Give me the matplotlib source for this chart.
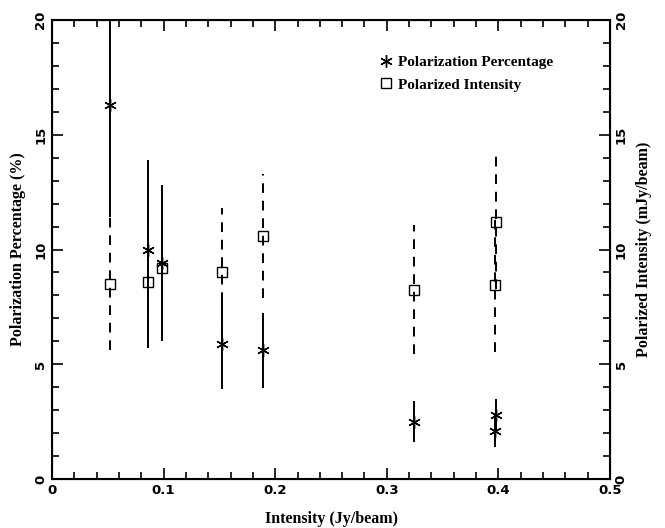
import matplotlib
matplotlib.use('Agg')
import matplotlib.pyplot as plt
import matplotlib.lines as lines
from matplotlib.ticker import MultipleLocator

# values
intensity = [0.052, 0.086, 0.0985, 0.152, 0.189, 0.324, 0.398, 0.397]   # Jy/beam
pol_pct = [16.3, 10.0, 9.4, 5.9, 5.6, 2.5, 2.8, 2.1]                   # %
pol_pct_err = [4.9, 3.9, 3.4, 2.0, 1.65, 0.9, 0.7, 0.7]
pol_int = [8.5, 8.6, 9.2, 9.0, 10.6, 8.25, 11.2, 8.45]                   # mJy/beam
pol_int_err = [2.9, 2.9, 2.9, 2.8, 2.7, 2.8, 2.9, 2.9]

serif = {'family': 'Liberation Serif', 'weight': 'bold', 'size': 11.5}
leg_font = {'family': 'Liberation Serif', 'weight': 'bold', 'size': 11}

fig = plt.figure(figsize=(6.65, 5.28), dpi=100)
ax = fig.add_axes([0.0782, 0.0928, 0.8391, 0.8693])

# polarized intensity with dashed error bars
eb = ax.errorbar(intensity, pol_int, yerr=pol_int_err, fmt='s', ms=7.5, mfc='none',
                 mec='black', mew=1.0, ecolor='black', elinewidth=1.4, capsize=0, zorder=2)
eb[2][0].set_linestyle((0, (5, 4)))

# polarization percentage with solid error bars
ax.errorbar(intensity, pol_pct, yerr=pol_pct_err, fmt='none', ecolor='black',
            elinewidth=1.4, capsize=0, zorder=3)
ax.plot(intensity, pol_pct, ls='none', marker=(6, 2, 0), ms=9, mec='black', mew=1.0, zorder=4)

ax.set_xlim(0, 0.5)
ax.set_ylim(0, 20)
ax.xaxis.set_major_locator(MultipleLocator(0.1))
ax.xaxis.set_minor_locator(MultipleLocator(0.02))
ax.yaxis.set_major_locator(MultipleLocator(5))
ax.yaxis.set_minor_locator(MultipleLocator(1))
ax.set_xticks([0, 0.1, 0.2, 0.3, 0.4, 0.5])
ax.set_xticklabels(['0', '0.1', '0.2', '0.3', '0.4', '0.5'])
ax.tick_params(which='both', direction='in', top=True, right=True, width=1.2,
               labelsize=9.5)
ax.tick_params(which='major', length=8)
ax.tick_params(which='minor', length=5)
for lab in ax.get_xticklabels() + ax.get_yticklabels():
    lab.set_fontweight('bold')
for lab in ax.get_yticklabels():
    lab.set_rotation(90)
    lab.set_va('center')
for sp in ax.spines.values():
    sp.set_linewidth(1.5)

ax.set_xlabel('Intensity (Jy/beam)', fontdict=serif, labelpad=10)
ax.set_ylabel('Polarization Percentage (%)', fontdict=serif, labelpad=6)

# right-hand axis for polarized intensity
ax2 = ax.twinx()
ax2.set_ylim(0, 20)
ax2.yaxis.set_major_locator(MultipleLocator(5))
ax2.yaxis.set_minor_locator(MultipleLocator(1))
ax2.tick_params(which='both', direction='in', width=1.2, labelsize=9.5)
ax2.tick_params(which='major', length=8)
ax2.tick_params(which='minor', length=5)
for lab in ax2.get_yticklabels():
    lab.set_fontweight('bold')
    lab.set_rotation(90)
    lab.set_va('center')
ax2.set_ylabel('Polarized Intensity (mJy/beam)', fontdict=serif, rotation=90, labelpad=6)

star = lines.Line2D([], [], ls='none', marker=(6, 2, 0), ms=9, mec='black', mew=1.0,
                    label='Polarization Percentage')
box = lines.Line2D([], [], ls='none', marker='s', ms=7.5, mfc='none', mec='black', mew=1.0,
                   label='Polarized Intensity')
ax.legend(handles=[star, box], loc='upper left', bbox_to_anchor=(0.563, 0.952), frameon=False,
          prop=leg_font, handlelength=0.8, handletextpad=0.4, labelspacing=0.55)

fig.savefig('out.png', dpi=100)
